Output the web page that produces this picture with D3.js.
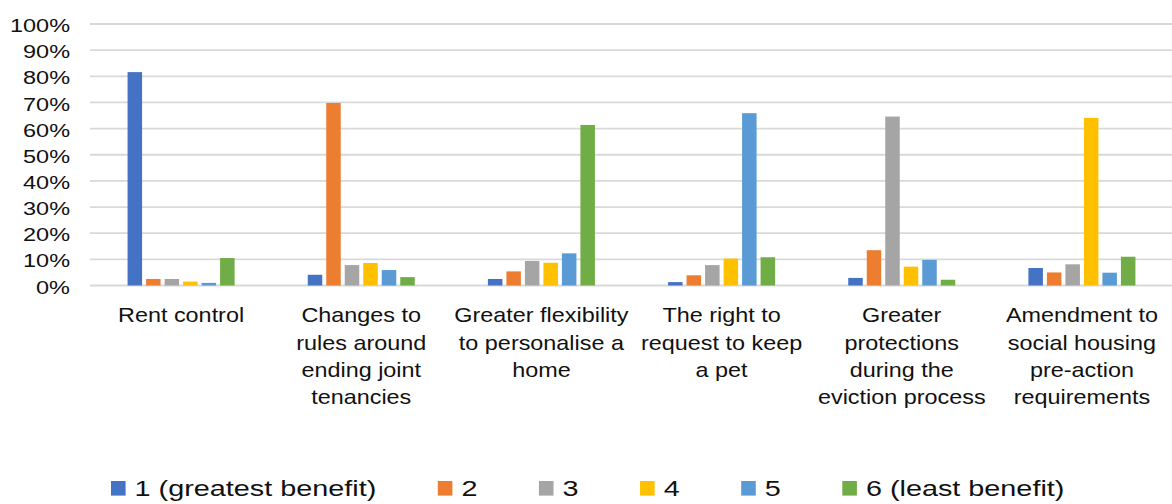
<!DOCTYPE html>
<html>
<head>
<meta charset="utf-8">
<script src="https://cdn.jsdelivr.net/npm/d3@7"></script>
<style>
  html, body { margin: 0; padding: 0; background: #fff; }
  svg { display: block; }
  text { font-family: "Liberation Sans", Arial, sans-serif; fill: #111; }
</style>
</head>
<body>
<svg id="chart" width="1172" height="504"></svg>
<script>
// ---- data ----
const categories = [
  "Rent control",
  "Changes to rules around ending joint tenancies",
  "Greater flexibility to personalise a home",
  "The right to request to keep a pet",
  "Greater protections during the eviction process",
  "Amendment to social housing pre-action requirements"
];
const categoryLines = [
  ["Rent control"],
  ["Changes to", "rules around", "ending joint", "tenancies"],
  ["Greater flexibility", "to personalise a", "home"],
  ["The right to", "request to keep", "a pet"],
  ["Greater", "protections", "during the", "eviction process"],
  ["Amendment to", "social housing", "pre-action", "requirements"]
];
const seriesNames = ["1 (greatest benefit)", "2", "3", "4", "5", "6 (least benefit)"];
const seriesColors = ["#4472C4", "#ED7D31", "#A5A5A5", "#FFC000", "#5B9BD5", "#70AD47"];
const rank1 = [81.6, 4.1, 2.5, 1.3, 2.9, 6.7];
const rank2 = [2.5, 69.8, 5.4, 3.9, 13.5, 5.0];
const rank3 = [2.5, 7.8, 9.4, 7.8, 64.6, 8.1];
const rank4 = [1.5, 8.6, 8.7, 10.3, 7.2, 64.1];
const rank5 = [1.0, 5.9, 12.3, 65.9, 9.8, 4.9];
const rank6 = [10.5, 3.2, 61.4, 10.8, 2.2, 11.0];
const seriesValues = [rank1, rank2, rank3, rank4, rank5, rank6];
const yTicks = [0, 10, 20, 30, 40, 50, 60, 70, 80, 90, 100];

// ---- layout ----
const svg = d3.select("#chart");
const plot = { left: 91, right: 1172, top: 24, bottom: 285.5 };
const gridLeft = 90;

const x0 = d3.scaleBand()
  .domain(categories)
  .range([plot.left, plot.right])
  .paddingInner(0.406)
  .paddingOuter(0.203);

const x1 = d3.scaleBand()
  .domain(seriesNames)
  .range([0, x0.bandwidth()])
  .paddingInner(0.216)
  .paddingOuter(0);

const y = d3.scaleLinear().domain([0, 100]).range([plot.bottom, plot.top]);

// gridlines
svg.append("g")
  .selectAll("line")
  .data(yTicks)
  .join("line")
  .attr("x1", gridLeft)
  .attr("x2", plot.right)
  .attr("y1", d => y(d))
  .attr("y2", d => y(d))
  .attr("stroke", "#d9d9d9")
  .attr("stroke-width", 1.8);

// y axis labels (horizontally stretched text like the source)
const ySx = 1.27, yFont = 18.5;
const yAxis = d3.axisLeft(y).tickValues(yTicks).tickFormat(d => d + "%").tickSize(0).tickPadding(0);
const yg = svg.append("g").attr("transform", `translate(${plot.left},0)`).call(yAxis);
yg.select(".domain").remove();
yg.selectAll("text")
  .attr("font-size", yFont)
  .attr("font-family", "Liberation Sans, Arial, sans-serif")
  .attr("fill", "#111")
  .attr("dy", null)
  .attr("y", 7.6)
  .attr("x", -21 / ySx)
  .attr("transform", `scale(${ySx},1)`);

// bars
const groups = svg.append("g")
  .selectAll("g")
  .data(categories)
  .join("g")
  .attr("transform", d => `translate(${x0(d)},0)`);

groups.selectAll("rect")
  .data((c, ci) => seriesNames.map((s, si) => ({ s, si, v: seriesValues[si][ci] })))
  .join("rect")
  .attr("x", d => x1(d.s))
  .attr("width", x1.bandwidth())
  .attr("y", d => y(d.v))
  .attr("height", d => y(0) - y(d.v))
  .attr("fill", d => seriesColors[d.si]);

// category labels
const cSx = 1.17, cFont = 20, cLine = 27.4, cBase = 322.3;
const cl = svg.append("g")
  .selectAll("g")
  .data(categories)
  .join("g")
  .attr("transform", d => `translate(${x0(d) + x0.bandwidth() / 2},0) scale(${cSx},1)`);
cl.each(function (d, i) {
  const g = d3.select(this);
  categoryLines[i].forEach((line, li) => {
    g.append("text")
      .attr("text-anchor", "middle")
      .attr("font-size", cFont)
      .attr("y", cBase + li * cLine)
      .text(line);
  });
});

// legend
const lSx = 1.34, lFont = 21.5, sq = 14.6, gapSqText = 9, gapItems = 61.5;
const legend = svg.append("g");
let cursor = 0;
seriesNames.forEach((name, i) => {
  const g = legend.append("g");
  g.append("rect")
    .attr("x", 0).attr("y", 481)
    .attr("width", sq).attr("height", sq)
    .attr("fill", seriesColors[i]);
  const t = g.append("text")
    .attr("font-size", lFont)
    .attr("x", (sq + gapSqText) / lSx)
    .attr("y", 496.5)
    .attr("transform", `scale(${lSx},1)`)
    .text(name);
  const w = t.node().getComputedTextLength() * lSx;
  g.attr("transform", `translate(${cursor},0)`);
  cursor += sq + gapSqText + w + gapItems;
});
legend.attr("transform", `translate(${111},0)`);
</script>
</body>
</html>
